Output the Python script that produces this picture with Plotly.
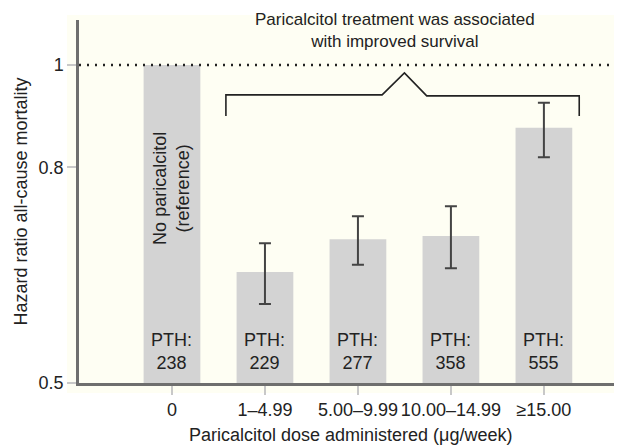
import math
import plotly.graph_objects as go

# ---- data ----
dose_groups = ["0", "1\u20134.99", "5.00\u20139.99", "10.00\u201314.99", "\u226515.00"]
hazard_ratio = [1.0, 0.637, 0.684, 0.689, 0.872]
ci_upper = [None, 0.678, 0.719, 0.735, 0.921]
ci_lower = [None, 0.594, 0.647, 0.642, 0.818]
pth_values = [238, 229, 277, 358, 555]
y_ticks = [0.5, 0.8, 1]

FONT = "Liberation Sans, Arial, sans-serif"
CREAM = "#fefef3"
BAR = "#d3d3d3"
DARK = "#444444"
BASE = 0.5

fig = go.Figure()

# bars (drawn from the 0.5 axis baseline)
fig.add_trace(go.Bar(
    x=list(range(len(dose_groups))),
    y=[hr - BASE for hr in hazard_ratio],
    base=BASE,
    width=0.61,
    marker=dict(color=BAR, line=dict(width=0)),
    hoverinfo="skip",
    showlegend=False,
))

# error bars (CI) for the treated groups
idx = [i for i, u in enumerate(ci_upper) if u is not None]
fig.add_trace(go.Scatter(
    x=idx,
    y=[hazard_ratio[i] for i in idx],
    mode="markers",
    marker=dict(size=1, color="rgba(0,0,0,0)"),
    error_y=dict(
        type="data", symmetric=False,
        array=[ci_upper[i] - hazard_ratio[i] for i in idx],
        arrayminus=[hazard_ratio[i] - ci_lower[i] for i in idx],
        color=DARK, thickness=2, width=6,
    ),
    hoverinfo="skip",
    showlegend=False,
))

# bracket over treated groups
first, last = idx[0], idx[-1]
mid = (first + last) / 2
bx = [first - 0.42, first - 0.42, mid - 0.24, mid, mid + 0.24, last + 0.38, last + 0.38]
by = [0.895, 0.937, 0.937, 0.983, 0.935, 0.935, 0.895]
fig.add_trace(go.Scatter(
    x=bx, y=by, mode="lines",
    line=dict(color="#222222", width=1.6),
    hoverinfo="skip", showlegend=False,
))

# reference line HR = 1
fig.add_shape(type="line", xref="paper", yref="y", x0=0, x1=1, y0=1, y1=1,
              line=dict(color="#222222", width=2.5, dash="2px,6px"))

# cream panel behind the plot
fig.add_shape(type="rect", xref="paper", yref="paper",
              x0=-0.022, x1=1.02, y0=-0.0275, y1=1.014,
              fillcolor=CREAM, line=dict(width=0), layer="below")

# PTH labels (annotation y on a log axis is given in log10 units)
for i, p in enumerate(pth_values):
    fig.add_annotation(x=i, y=math.log10(BASE), yref="y", text=f"PTH:<br>{p}",
                       showarrow=False, yanchor="bottom", yshift=8,
                       font=dict(family=FONT, size=18, color="#222222"))

# reference bar label
fig.add_annotation(x=0, y=math.log10(0.765), text="No paricalcitol<br>(reference)",
                   textangle=-90, showarrow=False,
                   font=dict(family=FONT, size=18, color="#222222"))

# headline
fig.add_annotation(x=2.4, xref="x", y=1.0, yref="paper", yanchor="top", yshift=12,
                   text="Paricalcitol treatment was associated<br>with improved survival",
                   showarrow=False,
                   font=dict(family=FONT, size=17, color="#222222"))

# axis titles
fig.add_annotation(x=0.5, xref="paper", y=0, yref="paper", yanchor="middle", yshift=-52,
                   text="Paricalcitol dose administered (\u03bcg/week)", showarrow=False,
                   font=dict(family=FONT, size=18, color="#222222"))
fig.add_annotation(x=0, xref="paper", y=0.5, yref="paper", xanchor="center", xshift=-59,
                   text="Hazard ratio all-cause mortality", textangle=-90, showarrow=False,
                   font=dict(family=FONT, size=18, color="#222222"))

# page has an 8px body margin, so the figure is sized to fit inside the window
fig.update_layout(
    width=614, height=438,
    margin=dict(l=71, r=0, t=12, b=63, autoexpand=False),
    paper_bgcolor="white",
    plot_bgcolor=CREAM,
    font=dict(family=FONT, size=18, color="#222222"),
)

fig.update_xaxes(
    range=[-1.0, 4.84],
    tickvals=list(range(len(dose_groups))),
    ticktext=dose_groups,
    ticks="outside", ticklen=9, tickcolor="#c8c8c8", tickwidth=1.5,
    showline=True, linecolor="#6e6e6e", linewidth=2.5,
    showgrid=False, zeroline=False, automargin=False,
    tickfont=dict(family=FONT, size=18, color="#222222"),
)

fig.update_yaxes(
    type="log",
    range=[-0.30103, 0.0426],
    tickvals=y_ticks,
    ticktext=[str(v) for v in y_ticks],
    ticks="outside", ticklen=9, tickcolor="#c8c8c8", tickwidth=1.5,
    showline=True, linecolor="#6e6e6e", linewidth=2.5,
    showgrid=False, zeroline=False, automargin=False,
    tickfont=dict(family=FONT, size=18, color="#222222"),
)

fig.write_html("out.html")
